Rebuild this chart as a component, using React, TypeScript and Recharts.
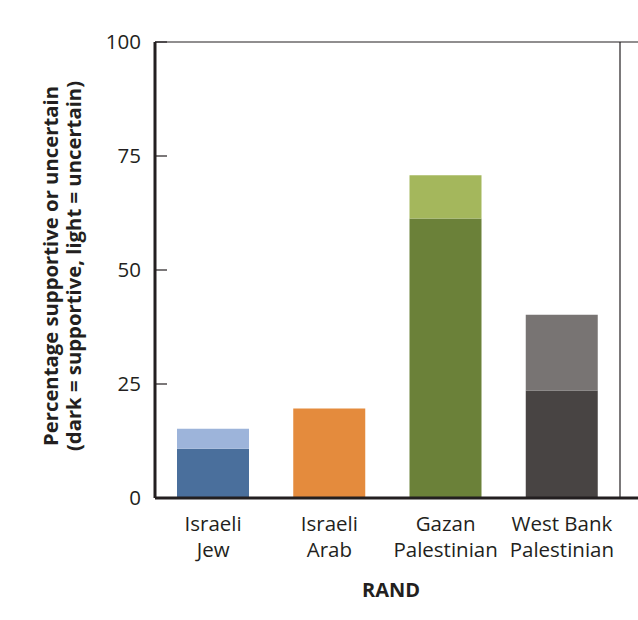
import React from 'react';
import { BarChart, Bar, XAxis, YAxis, CartesianGrid, Cell, Label } from 'recharts';

const categories = ['Israeli\nJew', 'Israeli\nArab', 'Gazan\nPalestinian', 'West Bank\nPalestinian'];
const supportive = [10.8, 19.6, 61.3, 23.6];
const uncertain = [4.4, 0, 9.5, 16.6];
const yTicks = [0, 25, 50, 75, 100];

const darkColors = ['#4a6f9c', '#e48b3d', '#6b8139', '#484443'];
const lightColors = ['#9db4da', '#e48b3d', '#a4b75c', '#787473'];

const INK = '#231f20';
const FONT = '"Open Sans", "Noto Sans", sans-serif';
const RIGHT_PAD = 18;

const data = categories.map((name, i) => ({
    name,
    supportive: supportive[i],
    uncertain: uncertain[i],
}));

const XTick = (props: any) => {
    const { x, y, payload } = props;
    const lines = String(payload.value).split('\n');
    return (
        <text x={x} y={y} textAnchor="middle" fill={INK} fontSize={20.5} fontFamily={FONT}>
            {lines.map((l, i) => (
                <tspan key={i} x={x} dy={i === 0 ? 33 : 25.5}>{l}</tspan>
            ))}
        </text>
    );
};

const YTick = (props: any) => {
    const { x, y, payload } = props;
    return (
        <g>
            <line x1={x + 14} x2={x + 26} y1={y} y2={y} stroke={INK} strokeWidth={1.2} />
            <text x={x} y={y} dy="0.36em" textAnchor="end" fill={INK} fontSize={20.5} fontFamily={FONT}>
                {payload.value}
            </text>
        </g>
    );
};

const YTitle = () => (
    <text
        x={58}
        y={266}
        transform="rotate(-90, 58, 266)"
        textAnchor="middle"
        fill={INK}
        fontSize={20.3}
        fontWeight="bold"
        fontFamily={FONT}
    >
        <tspan x={58} dy={0}>Percentage supportive or uncertain</tspan>
        <tspan x={58} dy={22.7}>(dark = supportive, light = uncertain)</tspan>
    </text>
);

const XTitle = () => (
    <text x={391} y={596.5} textAnchor="middle" fill={INK} fontSize={20} fontWeight="bold" fontFamily={FONT}>
        RAND
    </text>
);

export default function App() {
    return (
        <div style={{ position: 'absolute', left: 0, top: 0, width: 638, height: 620, background: '#fff', fontFamily: FONT }}>
            <BarChart
                width={638}
                height={620}
                data={data}
                margin={{ top: 42, right: 0, left: 0, bottom: 0 }}
                barSize={72}
            >
                <CartesianGrid
                    stroke={INK}
                    strokeWidth={1.2}
                    horizontalCoordinatesGenerator={(p: any) => [p.offset.top]}
                    verticalCoordinatesGenerator={(p: any) => [p.offset.left + p.offset.width - RIGHT_PAD]}
                />
                <XAxis
                    dataKey="name"
                    height={122}
                    padding={{ left: 0, right: RIGHT_PAD }}
                    axisLine={{ stroke: INK, strokeWidth: 3 }}
                    tickLine={false}
                    tickSize={0}
                    tickMargin={0}
                    tick={<XTick />}
                    interval={0}
                >
                    <Label content={<XTitle />} />
                </XAxis>
                <YAxis
                    width={155}
                    domain={[0, 100]}
                    ticks={yTicks}
                    interval={0}
                    axisLine={{ stroke: INK, strokeWidth: 3 }}
                    tickLine={false}
                    tickSize={0}
                    tickMargin={14}
                    tick={<YTick />}
                >
                    <Label content={<YTitle />} />
                </YAxis>
                <Bar dataKey="supportive" stackId="a" isAnimationActive={false}>
                    {data.map((_, i) => (
                        <Cell key={i} fill={darkColors[i]} />
                    ))}
                </Bar>
                <Bar dataKey="uncertain" stackId="a" isAnimationActive={false}>
                    {data.map((_, i) => (
                        <Cell key={i} fill={lightColors[i]} />
                    ))}
                </Bar>
            </BarChart>
        </div>
    );
}
